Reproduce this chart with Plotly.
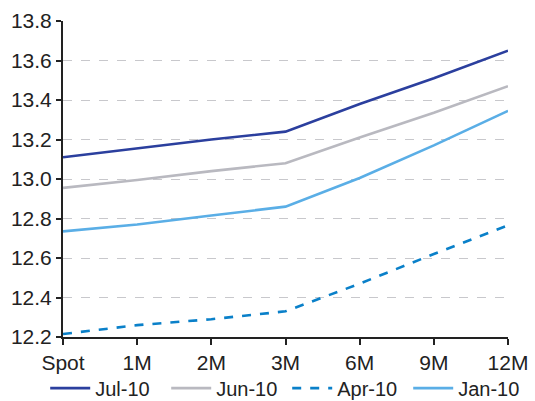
import plotly.graph_objects as go

categories = ["Spot", "1M", "2M", "3M", "6M", "9M", "12M"]
jul10 = [13.11, 13.155, 13.20, 13.24, 13.38, 13.51, 13.65]
jun10 = [12.955, 12.995, 13.04, 13.08, 13.21, 13.335, 13.47]
apr10 = [12.215, 12.26, 12.29, 12.33, 12.47, 12.62, 12.765]
jan10 = [12.735, 12.77, 12.815, 12.86, 13.005, 13.17, 13.345]
yticks = [12.2, 12.4, 12.6, 12.8, 13.0, 13.2, 13.4, 13.6, 13.8]

xpos = list(range(len(categories)))

fig = go.Figure()
series = [
    ("Jul-10", jul10, "#2b3f9e", "solid"),
    ("Jun-10", jun10, "#b9b9c0", "solid"),
    ("Apr-10", apr10, "#0a80c9", "dash"),
    ("Jan-10", jan10, "#5aaee6", "solid"),
]
for name, vals, color, dash in series:
    fig.add_trace(go.Scatter(x=xpos, y=vals, mode="lines", name=name,
                             line=dict(color=color, width=2.6, dash=dash)))

fig.update_layout(
    width=535, height=401,
    margin=dict(l=63, r=27, t=21, b=64, autoexpand=False),
    paper_bgcolor="white", plot_bgcolor="white",
    font=dict(family="Liberation Sans, Arial, sans-serif", size=21, color="#222222"),
    legend=dict(orientation="h", x=-0.04, xanchor="left", y=-0.10, yanchor="top",
                font=dict(size=20), tracegroupgap=0, itemwidth=40,
                entrywidth=66, entrywidthmode="pixels",
                bgcolor="rgba(0,0,0,0)"),
    showlegend=True,
)
fig.update_xaxes(
    range=[0, 6], tickmode="array", tickvals=xpos, ticktext=categories,
    showline=True, linecolor="#222222", linewidth=2,
    ticks="outside", ticklen=6, tickcolor="#222222", tickwidth=1.5,
    showgrid=False, zeroline=False, automargin=False,
)
fig.update_yaxes(
    range=[12.2, 13.8], tickmode="array", tickvals=yticks,
    ticktext=[f"{v:.1f}" for v in yticks],
    showline=True, linecolor="#222222", linewidth=2,
    ticks="outside", ticklen=5, tickcolor="#222222", tickwidth=1.5,
    showgrid=True, gridcolor="#c8c8cc", griddash="dash", gridwidth=1,
    zeroline=False, automargin=False,
)
fig.write_html("out.html")
